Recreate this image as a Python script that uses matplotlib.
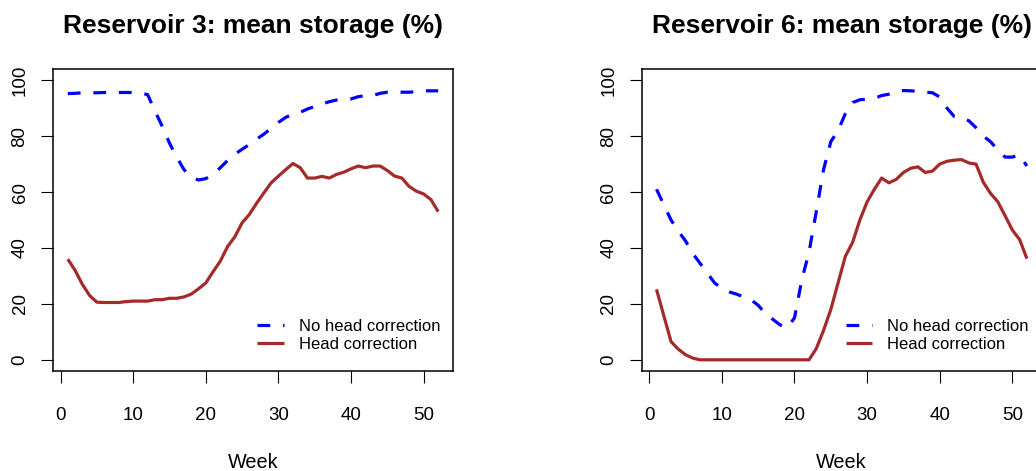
import matplotlib
matplotlib.use("Agg")
import matplotlib.pyplot as plt
import numpy as np

weeks = list(range(1, 53))

res3_no_head = [95.2, 95.3, 95.5, 95.5, 95.5, 95.6, 95.6, 95.6, 95.6, 95.6,
                95.5, 94.8, 89.0, 83.5, 77.5, 72.5, 68.0, 65.3, 64.3, 64.8,
                66.3, 68.7, 71.3, 73.5, 75.3, 77.0, 78.9, 80.7, 82.8, 84.9,
                86.7, 87.9, 88.5, 89.7, 90.6, 91.5, 92.3, 92.9, 93.0, 93.3,
                94.1, 94.5, 94.5, 95.3, 95.7, 95.7, 95.7, 95.7, 95.9, 96.2,
                96.2, 96.2]
res3_head = [36.0, 32.0, 27.0, 23.0, 20.6, 20.5, 20.5, 20.5, 20.8, 21.0,
             21.0, 21.0, 21.5, 21.5, 22.0, 22.0, 22.5, 23.5, 25.4, 27.5,
             31.5, 35.3, 40.5, 44.0, 49.0, 52.0, 56.0, 59.7, 63.3, 65.7,
             68.0, 70.2, 68.7, 65.0, 65.0, 65.6, 65.0, 66.3, 67.1, 68.3,
             69.3, 68.7, 69.3, 69.3, 67.7, 65.7, 65.0, 62.0, 60.3, 59.3,
             57.3, 53.0]
res6_no_head = [61.0, 55.5, 50.0, 46.0, 42.5, 38.0, 34.5, 31.0, 27.5, 25.5,
                24.3, 23.5, 22.5, 21.5, 19.5, 16.5, 14.5, 12.5, 11.5, 15.0,
                28.5, 38.5, 53.0, 68.0, 78.0, 82.0, 88.0, 92.0, 93.0, 93.2,
                93.5, 94.5, 95.0, 96.0, 96.3, 96.2, 96.0, 95.7, 95.5, 94.0,
                90.0, 87.0, 86.5, 85.5, 83.0, 80.0, 78.0, 75.0, 72.5, 72.5,
                73.2, 69.3]
res6_head = [25.2, 15.8, 6.5, 3.8, 1.8, 0.6, 0.0, 0.0, 0.0, 0.0,
             0.0, 0.0, 0.0, 0.0, 0.0, 0.0, 0.0, 0.0, 0.0, 0.0,
             0.0, 0.0, 4.0, 10.5, 18.0, 27.5, 37.0, 42.0, 50.0, 56.5,
             61.0, 65.0, 63.3, 64.5, 67.0, 68.5, 69.0, 67.0, 67.5, 70.0,
             71.0, 71.4, 71.6, 70.4, 70.0, 63.5, 59.5, 56.5, 51.5, 46.4,
             43.0, 36.2]

titles = ["Reservoir 3: mean storage (%)", "Reservoir 6: mean storage (%)"]
xlabel = "Week"
legend_labels = ["No head correction", "Head correction"]
xticks = [0, 10, 20, 30, 40, 50]
yticks = [0, 20, 40, 60, 80, 100]

plt.rcParams['font.family'] = ['Liberation Sans', 'DejaVu Sans']

W, H = 1036, 471
fig = plt.figure(figsize=(W / 100, H / 100), dpi=100)

positions = [(53, 69, 400, 302), (641.7, 69, 400, 302)]
series = [(res3_no_head, res3_head), (res6_no_head, res6_head)]

for (px, py, pw, ph), title, (nh, hc) in zip(positions, titles, series):
    ax = fig.add_axes([px / W, (H - py - ph) / H, pw / W, ph / H])
    l1, = ax.plot(weeks, nh, color='blue', lw=2.3, ls=(0, (4, 4)),
                  dash_capstyle='butt')
    l2, = ax.plot(weeks, hc, color='#A52A2A', lw=2.3, solid_capstyle='butt')
    xr = 52 - 1
    ax.set_xlim(1 - 0.04 * xr, 52 + 0.04 * xr)
    ax.set_ylim(-4, 104)
    ax.set_xticks(xticks)
    ax.set_yticks(yticks)
    ax.set_yticklabels([str(v) for v in yticks], rotation=90, va='center')
    ax.tick_params(axis='both', direction='out', length=8.6, width=0.8,
                   labelsize=13.5, colors='black')
    ax.tick_params(axis='x', pad=17)
    ax.tick_params(axis='y', pad=9)
    for s in ax.spines.values():
        s.set_linewidth(1.1)
    ax.set_title(title, fontsize=19, fontweight='bold', pad=26)
    ax.set_xlabel(xlabel, fontsize=14.3, labelpad=21)
    ax.legend([l1, l2], legend_labels, loc='center left',
              bbox_to_anchor=(0.51, 0.1175), frameon=False, fontsize=12,
              handlelength=1.6, handletextpad=0.9, borderpad=0,
              borderaxespad=0, labelspacing=0.15)

fig.savefig("out.png", dpi=100)
